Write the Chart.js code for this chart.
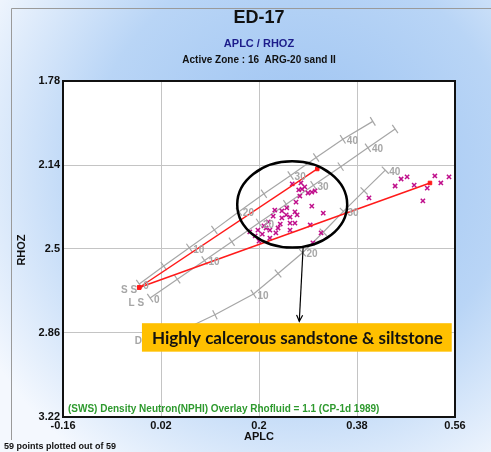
<!DOCTYPE html>
<html><head><meta charset="utf-8">
<script src="https://cdn.jsdelivr.net/npm/chart.js@4/dist/chart.umd.min.js"></script>
<style>html,body{margin:0;padding:0;background:#fff}#wrap{width:491px;height:452px}</style>
</head><body><div id="wrap"><canvas id="c" width="491" height="452"></canvas></div>
<script>
// ---- data ----
const xTicks = [-0.16, 0.02, 0.2, 0.38, 0.56];
const yTicks = [1.78, 2.14, 2.5, 2.86, 3.22];
const porosity = [0, 5, 10, 15, 20, 25, 30, 35, 40, 45];
const ssAPLC = [-0.02, 0.025, 0.072, 0.118, 0.163, 0.209, 0.258, 0.305, 0.354, 0.409];
const ssRHOZ = [2.65, 2.573, 2.495, 2.418, 2.34, 2.263, 2.185, 2.108, 2.03, 1.953];
const lsAPLC = [0.0, 0.05, 0.1, 0.15, 0.2, 0.25, 0.3, 0.35, 0.4, 0.45];
const lsRHOZ = [2.71, 2.63, 2.549, 2.469, 2.388, 2.308, 2.227, 2.147, 2.066, 1.986];
const dPorosity = [0, 5, 10, 15, 20, 25, 30, 35, 40];
const dAPLC = [0.04, 0.119, 0.19, 0.235, 0.28, 0.318, 0.355, 0.393, 0.432];
const dRHOZ = [2.87, 2.782, 2.693, 2.605, 2.516, 2.428, 2.339, 2.251, 2.162];
const ssPoint = {x: -0.02, y: 2.665};
const redEnds = [{x: 0.307, y: 2.157}, {x: 0.514, y: 2.217}];
const ptAPLC = [0.402,0.45,0.461,0.472,0.485,0.509,0.501,0.523,0.534,0.549,
  0.261,0.273,0.279,0.284,0.29,0.297,0.303,0.268,0.297,0.318,
  0.266,0.27,0.229,0.242,0.251,0.226,0.242,0.257,0.257,0.266,
  0.239,0.217,0.209,0.257,0.22,0.198,0.183,0.206,0.294,0.22,
  0.2,0.277,0.299,0.314,0.213,0.193,0.231,0.275,0.25,0.235];
const ptRHOZ = [2.281,2.23,2.2,2.191,2.226,2.239,2.294,2.187,2.217,2.191,
  2.221,2.247,2.243,2.234,2.26,2.256,2.251,2.299,2.316,2.346,
  2.341,2.354,2.333,2.337,2.324,2.359,2.367,2.363,2.389,2.389,
  2.393,2.384,2.401,2.419,2.419,2.419,2.427,2.436,2.397,2.453,
  2.466,2.217,2.474,2.431,2.41,2.444,2.431,2.273,2.354,2.41];
const ellipseBox = {x1: 0.16, x2: 0.362, y1: 2.124, y2: 2.494};
const arrowFrom = {x: 0.281, y: 2.495}, arrowTo = {x: 0.274, y: 2.81};
const calloutBox = {x1: -0.015, x2: 0.554, y1: 2.818, y2: 2.94};

const zip = (xs, ys) => xs.map((x, i) => ({x, y: ys[i]}));
const GRAY = '#a6a6a6';

function tickRotation(ctx) {
  if (ctx.dataIndex === undefined) return 0;
  const d = ctx.dataset.data, i = ctx.dataIndex;
  const a = d[Math.max(i - 1, 0)], b = d[Math.min(i + 1, d.length - 1)];
  const xs = ctx.chart.scales.x, ys = ctx.chart.scales.y;
  const dx = xs.getPixelForValue(b.x) - xs.getPixelForValue(a.x);
  const dy = ys.getPixelForValue(b.y) - ys.getPixelForValue(a.y);
  return Math.atan2(dy, dx) * 180 / Math.PI + 90;
}
function lithoDataset(xs, ys) {
  return {type: 'line', data: zip(xs, ys), showLine: true, borderColor: GRAY, borderWidth: 1.2,
    pointStyle: 'line', pointRadius: 5, pointBorderColor: GRAY, pointBorderWidth: 1.2,
    pointRotation: tickRotation, fill: false, tension: 0, order: 5};
}
const datasets = [
  lithoDataset(ssAPLC, ssRHOZ),
  lithoDataset(lsAPLC, lsRHOZ),
  lithoDataset(dAPLC, dRHOZ),
  {type: 'scatter', data: zip(ptAPLC, ptRHOZ), pointStyle: 'crossRot', pointRadius: 3,
    pointBorderColor: '#c0108c', pointBorderWidth: 1.5, order: 3},
  ...redEnds.map(e => ({type: 'line', data: [ssPoint, e], showLine: true, borderColor: '#ff1a1a',
    borderWidth: 1.5, pointStyle: 'rect', pointRadius: 2.5, pointBackgroundColor: '#ff1a1a',
    pointBorderColor: '#ff1a1a', pointBorderWidth: 1, order: 1}))
];

const labelsSS = [[0, '0'], [10, '10'], [20, '20'], [30, '30'], [40, '40']];

const decor = {
  id: 'decor',
  beforeDraw(chart) {
    const {ctx, chartArea: a, width, height} = chart;
    ctx.save();
    const g = ctx.createRadialGradient(300, 170, 30, 300, 170, 360);
    g.addColorStop(0, '#9ec4f2');
    g.addColorStop(0.55, '#b9d5f6');
    g.addColorStop(1, '#f4f8fe');
    ctx.fillStyle = g; ctx.fillRect(0, 0, width, height);
    ctx.strokeStyle = '#9a9a9a'; ctx.lineWidth = 1;
    ctx.beginPath(); ctx.moveTo(11.5, 440); ctx.lineTo(11.5, 8.5); ctx.lineTo(491, 8.5); ctx.stroke();
    ctx.fillStyle = '#ffffff';
    ctx.fillRect(a.left, a.top, a.right - a.left, a.bottom - a.top);
    ctx.restore();
  },
  afterDatasetsDraw(chart) {
    const {ctx, scales: {x, y}} = chart;
    const px = v => x.getPixelForValue(v), py = v => y.getPixelForValue(v);
    ctx.save();
    // porosity labels
    ctx.font = 'bold 10px "Liberation Sans", Arial, sans-serif';
    ctx.fillStyle = '#a6a6a6'; ctx.textBaseline = 'middle'; ctx.textAlign = 'left';
    const lab = (xs, ys, por) => por.forEach((p, i) => {
      if (p % 10 === 0 && p <= 40) ctx.fillText(String(p), px(xs[i]) + 4, py(ys[i]) + 2);
    });
    lab(ssAPLC, ssRHOZ, porosity); lab(lsAPLC, lsRHOZ, porosity); lab(dAPLC, dRHOZ, dPorosity);
    ctx.textAlign = 'right';
    ctx.fillText('S S', px(ssAPLC[0]) - 2, py(ssRHOZ[0]) + 6);
    ctx.fillText('L S', px(lsAPLC[0]) - 6, py(lsRHOZ[0]) + 5);
    ctx.fillText('D', px(dAPLC[0]) - 30, py(dRHOZ[0]) + 6);
    // ellipse
    ctx.strokeStyle = '#000'; ctx.lineWidth = 2.5;
    const ex1 = px(ellipseBox.x1), ex2 = px(ellipseBox.x2), ey1 = py(ellipseBox.y1), ey2 = py(ellipseBox.y2);
    ctx.beginPath();
    ctx.ellipse((ex1 + ex2) / 2, (ey1 + ey2) / 2, (ex2 - ex1) / 2, (ey2 - ey1) / 2, 0, 0, Math.PI * 2);
    ctx.stroke();
    // arrow
    const ax1 = px(arrowFrom.x), ay1 = py(arrowFrom.y), ax2 = px(arrowTo.x), ay2 = py(arrowTo.y);
    ctx.lineWidth = 1.2; ctx.beginPath(); ctx.moveTo(ax1, ay1); ctx.lineTo(ax2, ay2); ctx.stroke();
    const ang = Math.atan2(ay2 - ay1, ax2 - ax1);
    ctx.beginPath();
    ctx.moveTo(ax2 - 7 * Math.cos(ang - 0.45), ay2 - 7 * Math.sin(ang - 0.45));
    ctx.lineTo(ax2, ay2);
    ctx.lineTo(ax2 - 7 * Math.cos(ang + 0.45), ay2 - 7 * Math.sin(ang + 0.45));
    ctx.stroke();
    // callout
    const bx1 = px(calloutBox.x1), bx2 = px(calloutBox.x2), by1 = py(calloutBox.y1), by2 = py(calloutBox.y2);
    ctx.fillStyle = '#ffc000';
    ctx.fillRect(bx1, by1, bx2 - bx1, by2 - by1);
    ctx.fillStyle = '#111'; ctx.textAlign = 'left'; ctx.textBaseline = 'middle';
    ctx.font = 'bold 17px Lato, "Open Sans", sans-serif';
    ctx.fillText('Highly calcerous sandstone & siltstone', bx1 + 10, (by1 + by2) / 2 + 1);
    // overlay note
    ctx.fillStyle = '#2e9a2e'; ctx.font = 'bold 10px "Liberation Sans", Arial, sans-serif';
    ctx.fillText('(SWS) Density Neutron(NPHI) Overlay Rhofluid = 1.1 (CP-1d 1989)', 68, 409);
    ctx.restore();
  },
  afterDraw(chart) {
    const {ctx, chartArea: a} = chart;
    ctx.save();
    ctx.strokeStyle = '#111'; ctx.lineWidth = 2;
    ctx.strokeRect(a.left, a.top, a.right - a.left, a.bottom - a.top);
    ctx.textAlign = 'center'; ctx.textBaseline = 'middle';
    ctx.fillStyle = '#111';
    ctx.font = 'bold 18px "Liberation Sans", Arial, sans-serif';
    ctx.fillText('ED-17', 259, 18);
    ctx.fillStyle = '#1c1c8a';
    ctx.font = 'bold 11px "Liberation Sans", Arial, sans-serif';
    ctx.fillText('APLC / RHOZ', 259, 44);
    ctx.fillStyle = '#111';
    ctx.font = 'bold 10px "Liberation Sans", Arial, sans-serif';
    ctx.fillText('Active Zone : 16  ARG-20 sand II', 259, 60);
    ctx.font = 'bold 11px "Liberation Sans", Arial, sans-serif';
    ctx.fillText('APLC', 259, 437);
    ctx.save(); ctx.translate(22, 250); ctx.rotate(-Math.PI / 2); ctx.fillText('RHOZ', 0, 0); ctx.restore();
    ctx.textAlign = 'left'; ctx.font = 'bold 9px "Liberation Sans", Arial, sans-serif';
    ctx.fillText('59 points plotted out of 59', 4, 447);
    ctx.restore();
  }
};

new Chart(document.getElementById('c'), {
  type: 'scatter',
  data: {datasets},
  options: {
    responsive: false, animation: false, devicePixelRatio: 1,
    layout: {padding: {left: 0, right: 36, top: 81, bottom: 0}},
    plugins: {legend: {display: false}, tooltip: {enabled: false}},
    scales: {
      x: {type: 'linear', min: xTicks[0], max: xTicks[xTicks.length - 1],
        afterBuildTicks: s => { s.ticks = xTicks.map(v => ({value: v})); },
        afterFit: s => { s.height = 35; },
        grid: {color: '#c4c4c4', lineWidth: 1, drawTicks: false},
        border: {display: false},
        ticks: {padding: 2, color: '#111', font: {family: '"Liberation Sans", Arial', size: 11, weight: 'bold'},
          callback: v => String(v), maxRotation: 0}},
      y: {type: 'linear', reverse: true, min: yTicks[0], max: yTicks[yTicks.length - 1],
        afterBuildTicks: s => { s.ticks = yTicks.map(v => ({value: v})); },
        afterFit: s => { s.width = 63; },
        grid: {color: '#c4c4c4', lineWidth: 1, drawTicks: false},
        border: {display: false},
        ticks: {padding: 3, color: '#111', font: {family: '"Liberation Sans", Arial', size: 11, weight: 'bold'},
          callback: v => String(v)}}
    }
  },
  plugins: [decor]
});
</script></body></html>
